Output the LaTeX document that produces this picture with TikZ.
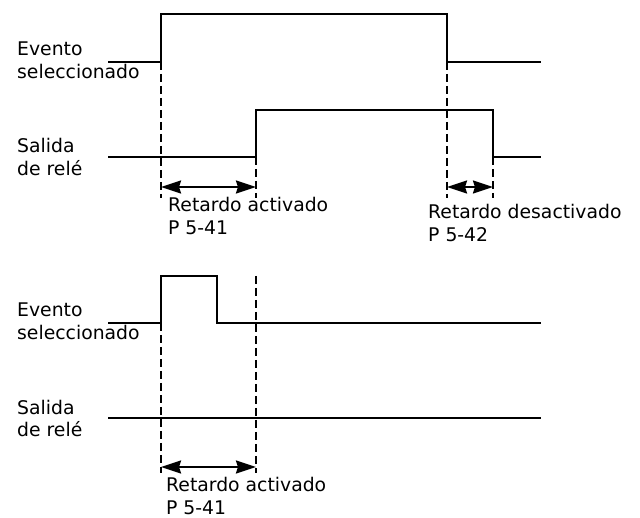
\documentclass[tikz,border=0pt]{standalone}
\usepackage{fontspec}
\setmainfont{DejaVu Sans}
\usetikzlibrary{arrows.meta}
\tikzset{
  signal/.style={line width=2.2pt},
  marker/.style={line width=1.6pt, dash pattern=on 8pt off 4pt},
  delay/.style={line width=2.2pt, {Stealth[length=20pt,width=13pt,inset=2pt]}-{Stealth[length=20pt,width=13pt,inset=2pt]}},
  sigtext/.style={align=left, anchor=base west, inner sep=0pt,
    font=\fontsize{18.8}{23}\selectfont}
}
\begin{document}
\begin{tikzpicture}[x=1pt,y=-1pt]
    \useasboundingbox (0,0) rectangle (640,518);

    % upper chart
    \node[sigtext] (ev1) at (17,79) {Evento\\seleccionado};
    \node[sigtext] (sal1) at (17,176) {Salida\\de relé};
    \draw[signal] (108,62) -- (161,62) -- (161,14) -- (447,14) -- (447,62) -- (541,62);
    \draw[signal] (108,157) -- (256,157) -- (256,110) -- (493,110) -- (493,157) -- (541,157);

    \coordinate (on1) at (161,187);
    \coordinate (off1) at (256,187);
    \coordinate (on2) at (447,187);
    \coordinate (off2) at (493,187);
    \draw[marker] (161,62) -- (161,198);
    \draw[marker] (256,157) -- (256,198);
    \draw[marker] (447,62) -- (447,198);
    \draw[marker] (493,157) -- (493,198);
    \draw[delay] (on1) -- (off1);
    \draw[delay] (on2) -- (off2);

    \node[sigtext] (ra1) at (168,235) {Retardo activado\\P 5-41};
    \node[sigtext] (rd1) at (428,242) {Retardo desactivado\\P 5-42};

    % lower chart
    \node[sigtext] (ev2) at (17,340) {Evento\\seleccionado};
    \node[sigtext] (sal2) at (17,437) {Salida\\de relé};
    \draw[signal] (108,323) -- (161,323) -- (161,276) -- (217,276) -- (217,323) -- (541,323);
    \draw[signal] (108,418) -- (541,418);

    \coordinate (on3) at (161,467);
    \coordinate (off3) at (256,467);
    \draw[marker] (161,323) -- (161,473);
    \draw[marker] (256,276) -- (256,473);
    \draw[delay] (on3) -- (off3);

    \node[sigtext] (ra2) at (166,514) {Retardo activado\\P 5-41};
\end{tikzpicture}
\end{document}
